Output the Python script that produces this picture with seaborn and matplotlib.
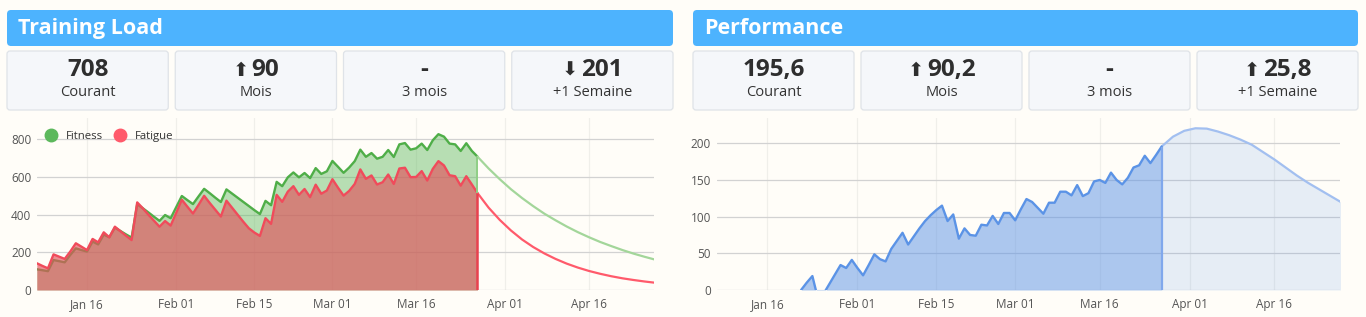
import numpy as np
import pandas as pd
import matplotlib
matplotlib.use("Agg")
import matplotlib.pyplot as plt
import matplotlib.dates as mdates
from matplotlib.patches import FancyBboxPatch
from matplotlib.lines import Line2D
from matplotlib.ticker import FixedLocator
from matplotlib.offsetbox import TextArea, HPacker, AnnotationBbox
import seaborn as sns

# ---------------- data ----------------
start_date = "2017-01-07"
fitness = [110, 105, 100, 159, 153, 147, 186, 221, 212, 204, 257, 242, 294, 280, 331, 313,
           295, 278, 455, 434, 412, 389, 367, 398, 381, 440, 499, 477, 456, 497, 537, 514,
           490, 467, 534, 512, 490, 468, 446, 424, 403, 473, 450, 574, 551, 598, 624, 598,
           621, 594, 647, 616, 630, 685, 654, 622, 650, 684, 745, 707, 727, 697, 707, 743,
           706, 773, 780, 745, 752, 777, 743, 795, 827, 814, 777, 773, 738, 779, 738, 708]
fatigue = [142, 128, 115, 189, 177, 165, 204, 248, 230, 212, 271, 253, 306, 280, 336, 312,
           288, 265, 465, 434, 400, 368, 336, 366, 342, 410, 479, 442, 406, 452, 500, 462,
           426, 390, 474, 437, 400, 363, 328, 305, 287, 381, 351, 505, 468, 522, 551, 505,
           536, 493, 559, 511, 528, 588, 543, 501, 526, 563, 640, 590, 608, 560, 572, 613,
           563, 645, 649, 599, 600, 631, 581, 643, 684, 661, 609, 604, 554, 604, 560, 515]
forecast_start = "2017-03-27"
fitness_forecast = [708, 645, 588, 535, 488, 445, 405, 370, 337, 307, 280, 255, 233, 212, 193, 176, 160]
fatigue_forecast = [515, 437, 372, 316, 268, 228, 194, 165, 140, 119, 101, 86, 73, 62, 53, 45, 38]

performance_start = "2017-01-22"
performance = [0, 10, 19, -12, -5, 8, 21, 34, 30, 41, 30, 20, 34, 48.6, 42, 39, 56, 67, 78, 62,
               73, 84, 94, 102, 109, 115, 94, 103, 70, 84, 75, 74, 89, 88, 101, 90, 105, 105, 95,
               110, 124, 120, 112, 104, 119, 119, 134, 134, 129, 143, 128, 132, 148, 150, 146,
               160, 150, 144, 153, 167, 170, 183, 173, 184, 195.6]
performance_forecast = [195.6, 209, 217, 220.5, 220, 216, 211, 205, 198, 188, 178, 167, 156, 146, 137, 128, 119]

tick_dates = ["2017-01-16", "2017-02-01", "2017-02-15", "2017-03-01",
              "2017-03-16", "2017-04-01", "2017-04-16"]
load_yticks = [0, 200, 400, 600, 800]
perf_yticks = [0, 50, 100, 150, 200]

panel_titles = ["Training Load", "Performance"]
load_arrows = ["", "⬆", "", "⬇"]
load_values = ["708", "90", "-", "201"]
perf_arrows = ["", "⬆", "", "⬆"]
perf_values = ["195,6", "90,2", "-", "25,8"]
stat_labels = ["Courant", "Mois", "3 mois", "+1 Semaine"]
legend_names = ["Fitness", "Fatigue"]

# ---------------- style ----------------
sns.set_theme(style="white")
FAM = ["Open Sans", "DejaVu Sans"]
plt.rcParams["font.family"] = FAM

BG = "#fffdf8"
W, H = 1366, 317
fig = plt.figure(figsize=(W / 100, H / 100), dpi=100, facecolor=BG)

bg = fig.add_axes([0, 0, 1, 1], zorder=0)
bg.set_xlim(0, W)
bg.set_ylim(H, 0)
bg.axis("off")
bg.set_facecolor(BG)

panels = [(7, 666), (693, 665)]
for (px, pw), title, arrows, vals in zip(panels, panel_titles,
                                         [load_arrows, perf_arrows],
                                         [load_values, perf_values]):
    bg.add_patch(FancyBboxPatch((px, 10), pw, 36, boxstyle="round,pad=0,rounding_size=4",
                                fc="#4db3fe", ec="none"))
    bg.text(px + 11, 28.5, title, color="white", fontsize=15.5, fontweight="bold",
            va="center", ha="left", family=FAM)
    bw = (pw - 3 * 7) / 4
    for i, (a, v, lab) in enumerate(zip(arrows, vals, stat_labels)):
        bx = px + i * (bw + 7)
        bg.add_patch(FancyBboxPatch((bx, 51), bw, 59, boxstyle="round,pad=0,rounding_size=3",
                                    fc="#f5f7fa", ec="#dfe3e8", lw=0.9))
        num = TextArea(v, textprops=dict(color="#2e2e2e", fontsize=17.5, fontweight="bold",
                                         family=FAM))
        children = [num]
        if a:
            arr = TextArea(a, textprops=dict(color="#2e2e2e", fontsize=14,
                                             family=["DejaVu Sans"]))
            children = [arr, num]
        pack = HPacker(children=children, align="baseline", pad=0, sep=2)
        ab = AnnotationBbox(pack, (bx + bw / 2, 70), xycoords=bg.transData, frameon=False,
                            box_alignment=(0.5, 0.5), pad=0)
        bg.add_artist(ab)
        bg.text(bx + bw / 2, 93, lab, color="#333333", fontsize=10.5,
                ha="center", va="center", family=FAM)

# ---------------- dates ----------------
d_hist = pd.date_range(start_date, periods=len(fitness), freq="D")
d_fore = pd.date_range(forecast_start, periods=len(fitness_forecast), freq="2D")
d_perf = pd.date_range(performance_start, periods=len(performance), freq="D")
x_left = pd.Timestamp(start_date)
x_right = x_left + pd.Timedelta(days=110.65)
ticks = [mdates.date2num(pd.Timestamp(t)) for t in tick_dates]


def style_axes(ax, yticks, ymax):
    ax.set_facecolor("none")
    ax.set_xlim(x_left, x_right)
    ax.set_ylim(0, ymax)
    ax.set_yticks(yticks)
    ax.xaxis.set_major_locator(FixedLocator(ticks))
    ax.xaxis.set_major_formatter(mdates.DateFormatter("%b %d"))
    ax.set_axisbelow(True)
    ax.grid(axis="y", color="#d2d2d2", lw=0.9)
    ax.grid(axis="x", color="#f0efea", lw=0.9)
    for s in ax.spines.values():
        s.set_visible(False)
    ax.tick_params(axis="both", length=0, labelsize=8.5, colors="#555555")
    ax.tick_params(axis="x", pad=6)
    ax.tick_params(axis="y", pad=4)
    ax.set_xlabel("")
    ax.set_ylabel("")


# ---------------- Training load ----------------
ax1 = fig.add_axes([36.8 / W, 1 - 290 / H, (654 - 36.8) / W, (290 - 118) / H], zorder=2)
ax1.fill_between(d_hist, 0, fitness, color="#5cb85c", alpha=0.44, lw=0, zorder=1)
sns.lineplot(x=d_hist, y=fitness, ax=ax1, color="#4fae48", lw=1.7, zorder=2,
             estimator=None, sort=False)
ax1.fill_between(d_hist, 0, fatigue, color="#e2525c", alpha=0.65, lw=0, zorder=3)
sns.lineplot(x=d_hist, y=fatigue, ax=ax1, color="#f04b5b", lw=1.7, zorder=4,
             estimator=None, sort=False)
sns.lineplot(x=d_fore, y=fitness_forecast, ax=ax1, color="#a3d69a", lw=1.6, zorder=4,
             estimator=None, sort=False)
sns.lineplot(x=d_fore, y=fatigue_forecast, ax=ax1, color="#ff5a6b", lw=1.6, zorder=4,
             estimator=None, sort=False)
ax1.vlines(d_hist[-1], fatigue[-1], fitness[-1], color="#8fcf86", lw=1.4, zorder=4)
ax1.vlines(d_hist[-1], 0, fatigue[-1], color="#e8414f", lw=1.8, zorder=5)
style_axes(ax1, load_yticks, 913)

handles = [Line2D([], [], marker="o", ls="", markersize=9, markerfacecolor="#5cb85c",
                  markeredgecolor="#5cb85c"),
           Line2D([], [], marker="o", ls="", markersize=9, markerfacecolor="#ff5a6b",
                  markeredgecolor="#ff5a6b")]
leg = ax1.legend(handles, legend_names, loc="center left", bbox_to_anchor=(0.014, 0.89),
                 ncol=2, frameon=False, fontsize=8.2, borderpad=0, borderaxespad=0,
                 handletextpad=0.8, columnspacing=1.0, handlelength=1.0)
for t in leg.get_texts():
    t.set_color("#333333")

# ---------------- Performance ----------------
ax2 = fig.add_axes([716.6 / W, 1 - 290 / H, (1340 - 716.6) / W, (290 - 118) / H], zorder=2)
ax2.fill_between(d_fore, 0, performance_forecast, color="#5b93e6", alpha=0.15, lw=0, zorder=1)
sns.lineplot(x=d_fore, y=performance_forecast, ax=ax2, color="#a2bff0", lw=1.6, zorder=2,
             estimator=None, sort=False)
ax2.fill_between(d_perf, 0, performance, color="#5b93e6", alpha=0.5, lw=0, zorder=3)
sns.lineplot(x=d_perf, y=performance, ax=ax2, color="#5b93e6", lw=1.7, zorder=4,
             estimator=None, sort=False)
ax2.vlines(d_perf[-1], 0, performance[-1], color="#80a8ec", lw=1.6, zorder=4)
style_axes(ax2, perf_yticks, 234.5)

fig.savefig("out.png", dpi=100, facecolor=BG)
